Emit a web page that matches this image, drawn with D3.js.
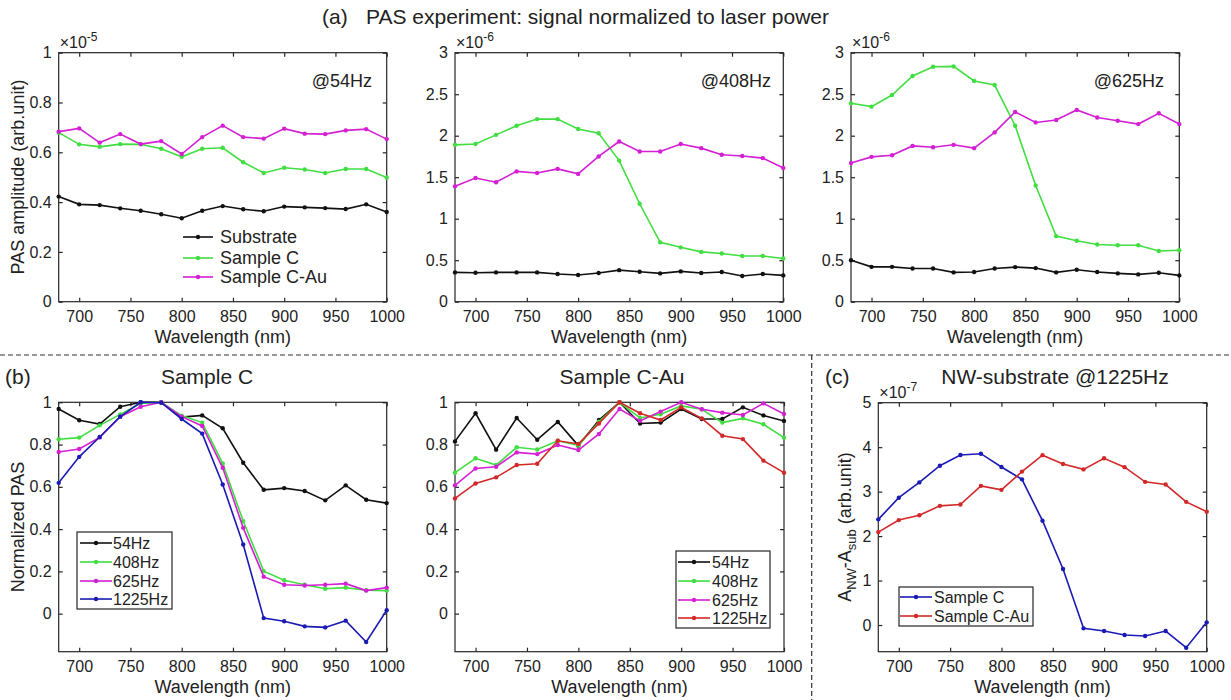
<!DOCTYPE html>
<html><head><meta charset="utf-8">
<script src="https://cdn.jsdelivr.net/npm/d3@7"></script>
<style>body{margin:0;background:#fff}svg{display:block}text{font-family:"Liberation Sans",Arial,sans-serif;fill:#222}</style>
</head><body><svg id="c" width="1231" height="700"></svg>
<script>
const wavelengths = [680,700,720,740,760,780,800,820,840,860,880,900,920,940,960,980,1000];
const xTicks = [700,750,800,850,900,950,1000];

// (a) PAS amplitude, @54Hz (x1e-5)
const a54Substrate = [0.422,0.391,0.388,0.375,0.365,0.351,0.335,0.365,0.384,0.371,0.363,0.382,0.379,0.376,0.372,0.391,0.360];
const a54SampleC   = [0.679,0.632,0.622,0.633,0.632,0.614,0.582,0.614,0.618,0.560,0.517,0.538,0.531,0.517,0.533,0.533,0.499];
const a54SampleCAu = [0.683,0.696,0.639,0.673,0.633,0.645,0.593,0.661,0.707,0.661,0.655,0.695,0.675,0.673,0.688,0.693,0.653];
// @408Hz (x1e-6)
const a408Substrate = [0.353,0.349,0.353,0.353,0.353,0.333,0.321,0.345,0.380,0.361,0.341,0.365,0.345,0.357,0.309,0.333,0.317];
const a408SampleC   = [1.89,1.90,2.01,2.12,2.20,2.20,2.08,2.03,1.70,1.18,0.715,0.655,0.60,0.58,0.55,0.55,0.52];
const a408SampleCAu = [1.39,1.49,1.44,1.57,1.55,1.60,1.54,1.75,1.93,1.81,1.81,1.90,1.85,1.77,1.755,1.73,1.61];
// @625Hz (x1e-6)
const a625Substrate = [0.50,0.42,0.42,0.40,0.40,0.353,0.357,0.40,0.417,0.405,0.353,0.385,0.357,0.341,0.329,0.349,0.317];
const a625SampleC   = [2.39,2.35,2.49,2.72,2.83,2.835,2.66,2.61,2.12,1.40,0.79,0.734,0.69,0.68,0.68,0.61,0.62];
const a625SampleCAu = [1.67,1.745,1.765,1.877,1.86,1.89,1.85,2.04,2.285,2.16,2.19,2.31,2.22,2.18,2.14,2.27,2.14];

// (b) Normalized PAS, Sample C
const bC54   = [0.968,0.915,0.897,0.979,1.0,1.0,0.930,0.938,0.877,0.714,0.586,0.594,0.580,0.536,0.607,0.539,0.523];
const bC408  = [0.825,0.833,0.891,0.943,0.995,1.0,0.937,0.904,0.711,0.438,0.201,0.158,0.137,0.118,0.123,0.111,0.109];
const bC625  = [0.765,0.779,0.834,0.932,0.979,1.0,0.932,0.888,0.690,0.406,0.175,0.137,0.133,0.137,0.142,0.109,0.123];
const bC1225 = [0.619,0.742,0.836,0.932,1.0,0.998,0.921,0.852,0.611,0.327,-0.021,-0.036,-0.060,-0.065,-0.033,-0.134,0.016];
// Sample C-Au
const bAu54   = [0.815,0.948,0.776,0.926,0.823,0.907,0.795,0.916,1.0,0.900,0.904,0.968,0.921,0.921,0.976,0.938,0.912];
const bAu408  = [0.667,0.735,0.703,0.787,0.777,0.818,0.796,0.908,1.0,0.926,0.943,0.983,0.967,0.904,0.924,0.896,0.833];
const bAu625  = [0.607,0.687,0.695,0.763,0.755,0.798,0.774,0.850,0.968,0.912,0.956,1.0,0.967,0.951,0.940,0.995,0.945];
const bAu1225 = [0.545,0.616,0.645,0.703,0.709,0.818,0.803,0.900,1.0,0.948,0.916,0.976,0.924,0.842,0.826,0.724,0.667];

// (c) NW - substrate @1225Hz (x1e-7)
const cSampleC   = [2.376,2.864,3.208,3.583,3.823,3.853,3.553,3.276,2.346,1.259,-0.075,-0.135,-0.225,-0.247,-0.135,-0.51,0.06];
const cSampleCAu = [2.09,2.36,2.47,2.68,2.71,3.13,3.04,3.45,3.82,3.62,3.50,3.75,3.55,3.22,3.16,2.77,2.55];

const C = {black:"#111111", green:"#40de40", magenta:"#d41fd4", blue:"#1a1ab4", red:"#d42828"};

const svg = d3.select("#c");

function panel(o){
  const g = svg.append("g");
  const x = d3.scaleLinear().domain([680,1000]).range([o.l,o.r]);
  const y = d3.scaleLinear().domain(o.yd).range([o.b,o.t]);
  g.append("rect").attr("x",o.l).attr("y",o.t).attr("width",o.r-o.l).attr("height",o.b-o.t)
    .attr("fill","none").attr("stroke","#262626").attr("stroke-width",1.2);
  const tk = 4;
  const xa = d3.axisBottom(x).tickValues(xTicks).tickSize(-tk).tickPadding(9).tickFormat(d3.format("d"));
  const gx = g.append("g").attr("transform",`translate(0,${o.b})`).call(xa);
  const gxt = g.append("g").attr("transform",`translate(0,${o.t})`).call(d3.axisTop(x).tickValues(xTicks).tickSize(-tk).tickFormat(""));
  const ya = d3.axisLeft(y).tickValues(o.yt).tickSize(-tk).tickPadding(7).tickFormat(o.fmt);
  const gy = g.append("g").attr("transform",`translate(${o.l},0)`).call(ya);
  const gyr = g.append("g").attr("transform",`translate(${o.r},0)`).call(d3.axisRight(y).tickValues(o.yt).tickSize(-tk).tickFormat(""));
  [gx,gxt,gy,gyr].forEach(a=>{a.select(".domain").remove();a.selectAll("line").attr("stroke","#262626").attr("stroke-width",1.2);
    a.selectAll("text").attr("font-size",16).attr("fill","#262626").attr("font-family","'Liberation Sans',Arial,sans-serif");});
  g.append("text").attr("x",(o.l+o.r)/2).attr("y",o.b+41).attr("text-anchor","middle").attr("font-size",18).text("Wavelength (nm)");
  if(o.exp){
    const t = g.append("text").attr("x",o.l+1).attr("y",o.t-5).attr("font-size",16).attr("fill","#555");
    t.append("tspan").text("\u00d710");
    t.append("tspan").attr("dy",-7).attr("font-size",12).text(o.exp);
  }
  const line = d3.line().x((d,i)=>x(wavelengths[i])).y(d=>y(d));
  o.series.forEach(s=>{
    g.append("path").datum(s.v).attr("d",line).attr("fill","none").attr("stroke",s.c).attr("stroke-width",1.6);
    g.selectAll(null).data(s.v).enter().append("circle").attr("cx",(d,i)=>x(wavelengths[i])).attr("cy",d=>y(d))
      .attr("r",2.2).attr("fill",s.c);
  });
  return {x,y,g};
}

function legend(items, lx1, lx2, tx, ys, box, fs){
  if(box) svg.append("rect").attr("x",box[0]).attr("y",box[1]).attr("width",box[2]-box[0]).attr("height",box[3]-box[1])
    .attr("fill","#fff").attr("stroke","#262626").attr("stroke-width",1.2);
  items.forEach((it,i)=>{
    svg.append("line").attr("x1",lx1).attr("x2",lx2).attr("y1",ys[i]).attr("y2",ys[i]).attr("stroke",it.c).attr("stroke-width",1.6);
    svg.append("circle").attr("cx",(lx1+lx2)/2).attr("cy",ys[i]).attr("r",2.2).attr("fill",it.c);
    svg.append("text").attr("x",tx).attr("y",ys[i]+fs*0.36).attr("font-size",fs).text(it.n);
  });
}

const fd = d=> d===0?"0":String(d);

// Row (a)
panel({l:58.7,r:386.7,t:52.7,b:301.7,yd:[0,1],yt:[0,0.2,0.4,0.6,0.8,1],fmt:fd,exp:"-5",
  series:[{v:a54Substrate,c:C.black},{v:a54SampleC,c:C.green},{v:a54SampleCAu,c:C.magenta}]});
panel({l:455,r:783.3,t:52.7,b:301.7,yd:[0,3],yt:[0,0.5,1,1.5,2,2.5,3],fmt:fd,exp:"-6",
  series:[{v:a408Substrate,c:C.black},{v:a408SampleC,c:C.green},{v:a408SampleCAu,c:C.magenta}]});
panel({l:851,r:1179.3,t:52.7,b:301.7,yd:[0,3],yt:[0,0.5,1,1.5,2,2.5,3],fmt:fd,exp:"-6",
  series:[{v:a625Substrate,c:C.black},{v:a625SampleC,c:C.green},{v:a625SampleCAu,c:C.magenta}]});

svg.append("text").attr("x",372).attr("y",87).attr("text-anchor","end").attr("font-size",18).text("@54Hz");
svg.append("text").attr("x",771).attr("y",87).attr("text-anchor","end").attr("font-size",18).text("@408Hz");
svg.append("text").attr("x",1164).attr("y",87).attr("text-anchor","end").attr("font-size",18).text("@625Hz");

legend([{n:"Substrate",c:C.black},{n:"Sample C",c:C.green},{n:"Sample C-Au",c:C.magenta}],183,213,220,[237,258,277],null,18);

svg.append("text").attr("x",322).attr("y",24).attr("font-size",21).text("(a)");
svg.append("text").attr("x",366).attr("y",24).attr("font-size",21).text("PAS experiment: signal normalized to laser power");

svg.append("text").attr("transform","translate(24,177) rotate(-90)").attr("text-anchor","middle").attr("font-size",18).text("PAS amplitude (arb.unit)");

// Row (b)
panel({l:58.7,r:386.7,t:402.3,b:651.7,yd:[-0.18,1],yt:[0,0.2,0.4,0.6,0.8,1],fmt:fd,
  series:[{v:bC54,c:C.black},{v:bC408,c:C.green},{v:bC625,c:C.magenta},{v:bC1225,c:C.blue}]});
panel({l:455,r:784,t:402.3,b:651.7,yd:[-0.18,1],yt:[0,0.2,0.4,0.6,0.8,1],fmt:fd,
  series:[{v:bAu54,c:C.black},{v:bAu408,c:C.green},{v:bAu625,c:C.magenta},{v:bAu1225,c:C.red}]});
legend([{n:"54Hz",c:C.black},{n:"408Hz",c:C.green},{n:"625Hz",c:C.magenta},{n:"1225Hz",c:C.blue}],80,112,113,[543,562,581,599],[77,532,172,609],16);
legend([{n:"54Hz",c:C.black},{n:"408Hz",c:C.green},{n:"625Hz",c:C.magenta},{n:"1225Hz",c:C.red}],678,710,712,[562,581,600,618],[676,551,770,628],16);
svg.append("text").attr("transform","translate(24,527) rotate(-90)").attr("text-anchor","middle").attr("font-size",18).text("Normalized PAS");
svg.append("text").attr("x",5).attr("y",384).attr("font-size",21).text("(b)");
svg.append("text").attr("x",207).attr("y",384).attr("text-anchor","middle").attr("font-size",21).text("Sample C");
svg.append("text").attr("x",622).attr("y",384).attr("text-anchor","middle").attr("font-size",21).text("Sample C-Au");

// Row (c)
panel({l:878.3,r:1206.7,t:402.7,b:651.7,yd:[-0.6,5],yt:[0,1,2,3,4,5],fmt:fd,exp:"-7",
  series:[{v:cSampleC,c:C.blue},{v:cSampleCAu,c:C.red}]});
legend([{n:"Sample C",c:C.blue},{n:"Sample C-Au",c:C.red}],900,932,934,[597,616],[899,587,1033,626],16);
svg.append("text").attr("x",825).attr("y",384).attr("font-size",21).text("(c)");
svg.append("text").attr("x",1055).attr("y",384).attr("text-anchor","middle").attr("font-size",21).text("NW-substrate @1225Hz");
const yl = svg.append("text").attr("transform","translate(851,527) rotate(-90)").attr("text-anchor","middle").attr("font-size",18);
yl.append("tspan").text("A");
yl.append("tspan").attr("dy",5).attr("font-size",13).text("NW");
yl.append("tspan").attr("dy",-5).text("-A");
yl.append("tspan").attr("dy",5).attr("font-size",13).text("sub");
yl.append("tspan").attr("dy",-5).text(" (arb.unit)");

// dashed separators
svg.append("line").attr("x1",0).attr("x2",1231).attr("y1",355).attr("y2",355).attr("stroke","#333").attr("stroke-width",1.2).attr("stroke-dasharray","5,3");
svg.append("line").attr("x1",811.7).attr("x2",811.7).attr("y1",355).attr("y2",700).attr("stroke","#333").attr("stroke-width",1.2).attr("stroke-dasharray","5,3");
</script></body></html>
